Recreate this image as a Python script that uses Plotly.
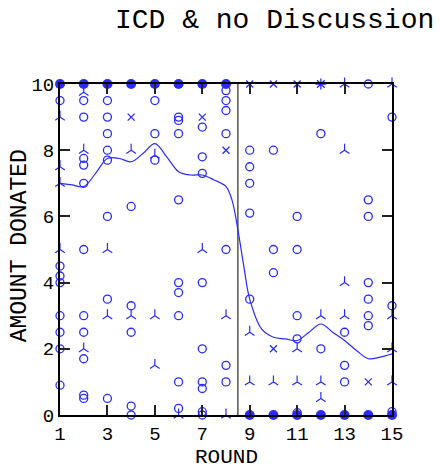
import plotly.graph_objects as go

# ---- data ----
circle_round = ([1]*8 + [2]*11 + [3]*8 + [4]*5 + [5]*3 + [6]*9 + [7]*9 + [8]*7 +
                [9]*5 + [10]*3 + [11]*5 + [12]*2 + [13]*3 + [14]*7 + [15]*3)
circle_amt = ([9.5, 4.5, 4.2, 4.0, 3.0, 2.5, 2.0, 0.9] +
              [9.5, 9.0, 7.75, 7.55, 7.0, 5.0, 3.0, 2.5, 1.7, 0.6, 0.5] +
              [9.5, 9.0, 8.5, 8.0, 7.7, 6.0, 3.5, 0.5] +
              [6.3, 3.3, 2.5, 0.27, 0.0] +
              [9.5, 8.5, 7.7] +
              [9.0, 8.9, 8.5, 6.5, 4.0, 3.7, 3.0, 1.0, 0.2] +
              [8.7, 7.8, 7.3, 4.0, 2.0, 1.0, 0.8, 0.1, 0.0] +
              [9.8, 9.5, 9.2, 8.5, 5.0, 1.5, 1.0] +
              [8.0, 7.5, 7.0, 6.1, 3.5] +
              [8.0, 5.0, 4.3] +
              [6.0, 5.0, 3.0, 2.3, 0.07] +
              [8.5, 2.0] +
              [2.5, 1.5, 1.0] +
              [10.0, 6.5, 6.0, 4.0, 3.5, 3.0, 2.7] +
              [9.0, 3.3, 0.1])

tri_round = ([1]*4 + [2]*3 + [3]*2 + [4]*2 + [5]*3 + [6] + [7] + [8]*2 +
             [9]*2 + [10] + [11]*2 + [12]*3 + [13]*4 + [15]*4)
tri_amt = ([9.0, 7.5, 7.0, 5.0] + [9.75, 8.0, 2.0] + [5.0, 3.0] + [8.0, 3.0] +
           [7.85, 3.0, 1.5] + [0.0] + [5.0] + [3.0, 0.0] + [2.5, 1.0] + [1.0] +
           [2.0, 1.0] + [3.0, 1.0, 0.5] + [10.0, 8.0, 4.0, 3.0] + [10.0, 3.0, 2.0, 1.0])

x_round = [4, 7, 8, 9, 10, 10, 11, 14]
x_amt = [9.0, 9.0, 8.0, 10.0, 10.0, 2.0, 10.0, 1.0]

star_round = [12]
star_amt = [10.0]

dot_round = [1, 2, 3, 4, 5, 6, 7, 8, 9, 10, 11, 12, 13, 14, 15]
dot_amt = [10, 10, 10, 10, 10, 10, 10, 10, 0, 0, 0, 0, 0, 0, 0]

smooth_round = [1, 1.5, 2, 2.5, 3, 3.5, 4, 4.5, 5, 5.5, 6, 6.5, 7, 7.5, 8, 8.25,
                8.5, 8.75, 9, 9.5, 10, 10.5, 11, 11.5, 12, 12.5, 13, 13.5, 14, 14.5, 15]
smooth_amt = [7.0, 6.95, 6.9, 7.3, 7.75, 7.75, 7.65, 7.9, 8.2, 7.8, 7.35, 7.25, 7.25, 7.1,
              6.9, 6.5, 5.6, 4.5, 3.5, 2.6, 2.35, 2.3, 2.25, 2.5, 2.75, 2.5, 2.25, 1.95,
              1.7, 1.75, 1.85]

split_round = [8.5, 8.5]
split_amt = [0, 10]

BLUE = "#2a2aff"
FONT = "Courier New, Liberation Mono, monospace"

fig = go.Figure()
fig.add_trace(go.Scatter(x=split_round, y=split_amt, mode="lines",
                         line=dict(color="#555555", width=1.5), hoverinfo="skip"))
fig.add_trace(go.Scatter(x=circle_round, y=circle_amt, mode="markers", cliponaxis=False,
                         marker=dict(symbol="circle-open", size=8, color=BLUE,
                                     line=dict(width=1.3, color=BLUE))))
fig.add_trace(go.Scatter(x=tri_round, y=tri_amt, mode="markers", cliponaxis=False,
                         marker=dict(symbol="y-up-open", size=8, color=BLUE,
                                     line=dict(width=1.2, color=BLUE))))
fig.add_trace(go.Scatter(x=x_round, y=x_amt, mode="markers", cliponaxis=False,
                         marker=dict(symbol="x-thin-open", size=7, color=BLUE,
                                     line=dict(width=1.3, color=BLUE))))
fig.add_trace(go.Scatter(x=star_round, y=star_amt, mode="markers", cliponaxis=False,
                         marker=dict(symbol="asterisk-open", size=9, color=BLUE,
                                     line=dict(width=1.3, color=BLUE))))
fig.add_trace(go.Scatter(x=dot_round, y=dot_amt, mode="markers", cliponaxis=False,
                         marker=dict(symbol="circle", size=10, color=BLUE,
                                     line=dict(width=0))))
fig.add_trace(go.Scatter(x=smooth_round, y=smooth_amt, mode="lines", line_shape="spline",
                         line=dict(color=BLUE, width=1.2)))

fig.update_layout(
    width=440, height=470,
    margin=dict(l=60, r=48, t=84, b=55),
    paper_bgcolor="white", plot_bgcolor="white",
    showlegend=False,
    font=dict(family=FONT, color="black"),
    annotations=[
        dict(text="ICD & no Discussion", xref="paper", yref="paper",
             x=0.16, y=1.193, xanchor="left", yanchor="middle",
             showarrow=False, font=dict(family=FONT, size=28, color="black")),
        dict(text="ROUND", xref="paper", yref="paper",
             x=0.5, y=-0.127, xanchor="center", yanchor="middle",
             showarrow=False, font=dict(family=FONT, size=21, color="black")),
        dict(text="AMOUNT DONATED", xref="paper", yref="paper", textangle=-90,
             x=-0.12, y=0.51, xanchor="center", yanchor="middle",
             showarrow=False, font=dict(family=FONT, size=23, color="black")),
    ],
)
fig.update_xaxes(range=[1, 15], tickvals=[1, 3, 5, 7, 9, 11, 13, 15],
                 ticks="inside", ticklen=10, tickwidth=1.5, tickcolor="#222222",
                 showline=True, linewidth=2, linecolor="black", mirror="ticks",
                 showgrid=False, zeroline=False, automargin=False,
                 tickfont=dict(size=19, family=FONT))
fig.update_yaxes(range=[0, 10], tickvals=[0, 2, 4, 6, 8, 10],
                 ticks="inside", ticklen=10, tickwidth=1.5, tickcolor="#222222",
                 showline=True, linewidth=2, linecolor="black", mirror="ticks",
                 showgrid=False, zeroline=False, automargin=False,
                 tickfont=dict(size=19, family=FONT))

fig.write_html("out.html")
